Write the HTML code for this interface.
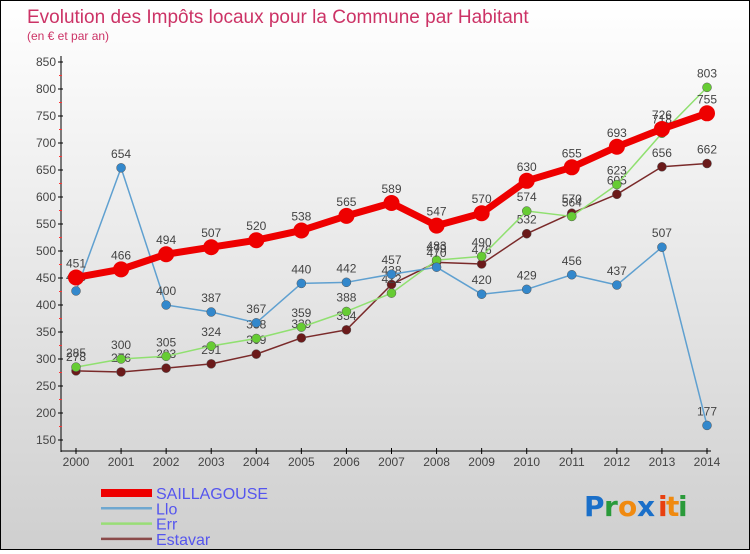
<!DOCTYPE html>
<html><head><meta charset="utf-8"><style>
body{margin:0;width:750px;height:550px;overflow:hidden;font-family:"Liberation Sans",sans-serif}
#c{position:absolute;left:0;top:0;width:748px;height:548px;border:1px solid #000;background:linear-gradient(#fff,#cfcfcf)}
</style></head><body>
<div id="c">
<svg id="s" width="748" height="548" xmlns="http://www.w3.org/2000/svg">
<text x="26" y="22" font-size="19" fill="#cc3366">Evolution des Impôts locaux pour la Commune par Habitant</text>
<text x="26" y="39" font-size="12" fill="#cc3366">(en € et par an)</text>
<g id="axes"></g>
<g id="series"></g>
<g id="legend"></g>
<g font-size="28" font-weight="bold" font-family="'DejaVu Sans',sans-serif">
<text x="583" y="515" fill="#1a6fc9">P</text><text x="603" y="515" fill="#2a9a3a">r</text><text x="617" y="515" fill="#f08a10">o</text><text x="636" y="515" fill="#1a6fc9">x</text><text x="657" y="515" fill="#e84010">i</text><text x="665" y="515" fill="#f08a10">t</text><text x="677" y="515" fill="#2a9a3a">i</text></g>
</svg></div>
<script>
const years=[2000,2001,2002,2003,2004,2005,2006,2007,2008,2009,2010,2011,2012,2013,2014];
const yTicks=[150,200,250,300,350,400,450,500,550,600,650,700,750,800,850];
const sailla=[451,466,494,507,520,538,565,589,547,570,630,655,693,726,755];
const llo=[426,654,400,387,367,440,442,457,470,420,429,456,437,507,177];
const err=[285,300,305,324,338,359,388,422,483,490,574,564,623,718,803];
const estavar=[278,276,283,291,309,339,354,438,479,476,532,570,605,656,662];
const NS="http://www.w3.org/2000/svg";
const x=i=>75+i*(706-75)/14;
const y=v=>439-(v-150)*(439-61)/700;
function mk(t,a,p){const e=document.createElementNS(NS,t);for(const k in a)e.setAttribute(k,a[k]);(p||document.getElementById('series')).appendChild(e);return e;}
const ax=document.getElementById('axes');
let e=mk('line',{x1:60,y1:55,x2:60,y2:451,stroke:'#000'},ax);


e=mk('line',{x1:60,y1:450,x2:710,y2:450,stroke:'#000'},ax);


yTicks.forEach(v=>{mk('line',{x1:57,x2:62,y1:y(v),y2:y(v),stroke:'#000'},ax);
 if(v<850)mk('line',{x1:58,x2:61,y1:y(v+25),y2:y(v+25),stroke:'#f33'},ax);
 const t=mk('text',{x:55,y:y(v)+4,'font-size':12,fill:'#444','text-anchor':'end'},ax);t.textContent=v;
 
 });
years.forEach((yr,i)=>{mk('line',{x1:x(i),x2:x(i),y1:447,y2:453,stroke:'#000'},ax);
 const t=mk('text',{x:x(i),y:465,'font-size':12,fill:'#444','text-anchor':'middle'},ax);t.textContent=yr;
 
 });
function series(d,col,w,r,name,dot){
 const p=mk('polyline',{points:d.map((v,i)=>x(i)+','+y(v)).join(' '),fill:'none',stroke:col,'stroke-width':w,'stroke-linejoin':'round'});
 
 
 d.forEach((v,i)=>{const c=mk('circle',{cx:x(i),cy:y(v),r:r,fill:dot,stroke:w>3?dot:'#555','stroke-width':w>3?0:0.5});
  
  
  const t=mk('text',{x:x(i),y:y(v)-10,'font-size':12,fill:'#444','text-anchor':'middle'});t.textContent=v;
  
  });
}
series(estavar,'#7a2a2a',1.5,4.5,'estavar','#6b1a1a');
series(err,'#90e070',1.5,4.5,'err','#66cc33');
series(llo,'#5fa0d0',1.5,4.5,'llo','#3388cc');
series(sailla,'#ee0000',7,8,'saillagouse','#ee0000');
const lg=document.getElementById('legend');
[['SAILLAGOUSE','#ee0000',8],['Llo','#6fa8d0',2.5],['Err','#99dd77',2.5],['Estavar','#8a4a4a',2.5]].forEach((l,i)=>{
 const yy=492+i*15.3;
 const ln=mk('line',{x1:100,x2:151,y1:yy,y2:yy,stroke:l[1],'stroke-width':l[2]},lg);
 
 
 const t=mk('text',{x:155,y:yy+6,'font-size':16,fill:'#5555ee'},lg);t.textContent=l[0];
 
 });
</script>
</body></html>
